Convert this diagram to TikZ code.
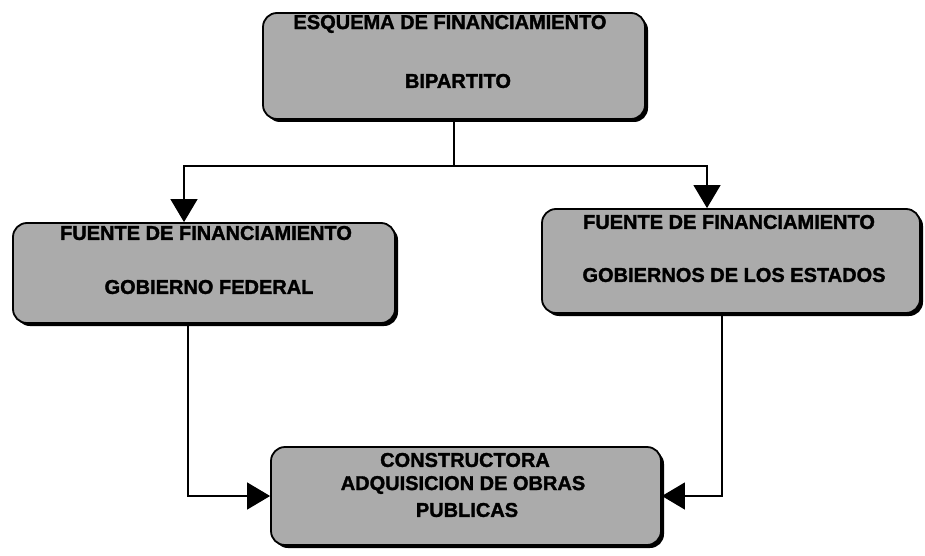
\documentclass[tikz,border=0pt]{standalone}
\usepackage{fontspec}
\setmainfont{Liberation Sans}
\newfontfamily\heavyfont[BoldFeatures={FakeBold=1.6}]{Liberation Sans}
\usetikzlibrary{arrows.meta,shadows}
\begin{document}
\begin{tikzpicture}[x=1pt,y=-1pt,
  box/.style={draw=black, line width=1.8pt, rounded corners=14pt, fill=black!33,
    drop shadow={shadow xshift=3pt, shadow yshift=-3pt, fill=black, opacity=1},
    inner sep=0pt},
  lbl/.style={font=\heavyfont\fontsize{20}{24}\selectfont\bfseries, text=black, inner sep=0pt},
  conn/.style={line width=1.2pt},
  arr/.style={conn, -{Triangle[width=27pt,length=23pt]}}]
\useasboundingbox (0,0) rectangle (925,556);
\fill[white] (0,0) rectangle (925,556);
% boxes
\node[box, minimum width=382pt, minimum height=106pt] (top) at (454,66) {};
\node[box, minimum width=382pt, minimum height=100pt] (left) at (204,273) {};
\node[box, minimum width=378pt, minimum height=104pt] (right) at (731,261) {};
\node[box, minimum width=390pt, minimum height=98pt] (bottom) at (466,496) {};
% labels
\node[lbl] (t1) at (450,24) {ESQUEMA DE FINANCIAMIENTO};
\node[lbl] (t2) at (458,81) {BIPARTITO};
\node[lbl] (l1) at (206,233) {FUENTE DE FINANCIAMIENTO};
\node[lbl] (l2) at (209,287) {GOBIERNO FEDERAL};
\node[lbl] (r1) at (729,222) {FUENTE DE FINANCIAMIENTO};
\node[lbl] (r2) at (734,275) {GOBIERNOS DE LOS ESTADOS};
\node[lbl] (b1) at (465,460) {CONSTRUCTORA};
\node[lbl] (b2) at (463,485) {ADQUISICION DE OBRAS};
\node[lbl] (b3) at (467,510) {PUBLICAS};
% connectors
\coordinate (lj) at (184,166);
\coordinate (rj) at (707,166);
\coordinate (ld) at (188,0);
\coordinate (rd) at (722,0);
\draw[arr] (top.south) |- (lj) -- (left.north -| lj);
\draw[arr] (top.south) |- (rj) -- (right.north -| rj);
\draw[arr] (left.south -| ld) |- (bottom.west);
\draw[arr] (right.south -| rd) |- (bottom.east);
\end{tikzpicture}
\end{document}
